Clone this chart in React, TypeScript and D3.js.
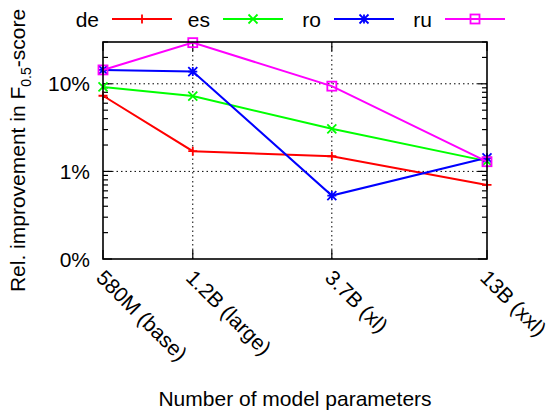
import React from 'react';
import * as d3 from 'd3';

// model sizes (x) and relative improvements in % (y)
const sizes = [580e6, 1.2e9, 3.7e9, 13e9];
const sizeLabels = ['580M (base)', '1.2B (large)', '3.7B (xl)', '13B (xxl)'];
const langs = ['de', 'es', 'ro', 'ru'];
const deVals = [7.3, 1.7, 1.49, 0.7];
const esVals = [9.2, 7.25, 3.06, 1.31];
const roVals = [14.4, 13.8, 0.53, 1.43];
const ruVals = [14.4, 29.5, 9.4, 1.29];
const yTicks = [0.1, 1, 10];
const yTickLabels = ['0%', '1%', '10%'];

const colors = ['#ff0000', '#00ff00', '#0000ff', '#ff00ff'];
const font = '"Liberation Sans", Arial, Helvetica, sans-serif';
const fs = 21;

const margin = { top: 42, right: 63, bottom: 155, left: 103 };
const W = 550;
const H = 414;

function Marker({ kind, x, y, color }: { kind: number; x: number; y: number; color: string }) {
  const s = 4.5;
  const plus = `M${x - s},${y}H${x + s}M${x},${y - s}V${y + s}`;
  const cross = `M${x - s},${y - s}L${x + s},${y + s}M${x - s},${y + s}L${x + s},${y - s}`;
  if (kind === 0) return <path d={plus} stroke={color} strokeWidth={1.8} fill="none" />;
  if (kind === 1) return <path d={cross} stroke={color} strokeWidth={1.8} fill="none" />;
  if (kind === 2) return <path d={plus + cross} stroke={color} strokeWidth={1.8} fill="none" />;
  return <rect x={x - s} y={y - s} width={2 * s} height={2 * s} stroke={color} strokeWidth={1.8} fill="none" />;
}

export default function App() {
  const series = [deVals, esVals, roVals, ruVals];
  const x0 = margin.left;
  const x1 = W - margin.right;
  const y0 = H - margin.bottom;
  const y1 = margin.top;

  const x = d3.scaleLog().domain([sizes[0], sizes[sizes.length - 1]]).range([x0, x1]);
  const y = d3.scaleLog().domain([0.1, 30]).range([y0, y1]);

  const line = d3
    .line<number>()
    .x((_, i) => x(sizes[i]))
    .y((d) => y(d));

  // minor ticks 2..9 per decade
  const minor: number[] = [];
  [0.1, 1, 10].forEach((dec) => {
    for (let k = 2; k <= 9; k++) {
      const v = dec * k;
      if (v <= 30) minor.push(v);
    }
  });

  return (
    <svg
      width={W}
      height={H}
      style={{ position: 'absolute', left: 0, top: 0, background: '#fff' }}
      fontFamily={font}
    >
      {/* grid */}
      {yTicks.slice(1).map((t) => (
        <line key={'gy' + t} x1={x0} x2={x1} y1={y(t)} y2={y(t)} stroke="#000" strokeWidth={1} strokeDasharray="1.5,3" />
      ))}
      {sizes.slice(1, -1).map((s) => (
        <line key={'gx' + s} x1={x(s)} x2={x(s)} y1={y0} y2={y1} stroke="#000" strokeWidth={1} strokeDasharray="1.5,3" />
      ))}

      {/* ticks */}
      {yTicks.map((t) => (
        <g key={'ty' + t}>
          <line x1={x0} x2={x0 + 9} y1={y(t)} y2={y(t)} stroke="#000" strokeWidth={1.2} />
          <line x1={x1} x2={x1 - 9} y1={y(t)} y2={y(t)} stroke="#000" strokeWidth={1.2} />
        </g>
      ))}
      {minor.map((t) => (
        <g key={'my' + t}>
          <line x1={x0} x2={x0 + 5} y1={y(t)} y2={y(t)} stroke="#000" strokeWidth={1.2} />
          <line x1={x1} x2={x1 - 5} y1={y(t)} y2={y(t)} stroke="#000" strokeWidth={1.2} />
        </g>
      ))}
      {sizes.map((s) => (
        <g key={'tx' + s}>
          <line x1={x(s)} x2={x(s)} y1={y0} y2={y0 - 9} stroke="#000" strokeWidth={1.2} />
          <line x1={x(s)} x2={x(s)} y1={y1} y2={y1 + 9} stroke="#000" strokeWidth={1.2} />
        </g>
      ))}

      {/* tick labels */}
      {yTicks.map((t, i) => (
        <text key={'ly' + t} x={x0 - 13} y={y(t)} dy="0.36em" textAnchor="end" fontSize={fs}>
          {yTickLabels[i]}
        </text>
      ))}
      {sizes.map((s, i) => (
        <text
          key={'lx' + s}
          transform={`translate(${x(s) - 8},${y0 + 20}) rotate(45)`}
          textAnchor="start"
          fontSize={fs}
        >
          {sizeLabels[i]}
        </text>
      ))}

      {/* series */}
      {series.map((vals, si) => (
        <g key={langs[si]}>
          <path d={line(vals) || ''} fill="none" stroke={colors[si]} strokeWidth={2} />
          {vals.map((v, i) => (
            <Marker key={i} kind={si} x={x(sizes[i])} y={y(v)} color={colors[si]} />
          ))}
        </g>
      ))}

      {/* frame */}
      <rect x={x0} y={y1} width={x1 - x0} height={y0 - y1} fill="none" stroke="#000" strokeWidth={1.6} />

      {/* legend */}
      {langs.map((l, i) => {
        const lx = 112 + i * 111;
        const ly = 19;
        return (
          <g key={'leg' + l}>
            <text x={lx - 13} y={ly} dy="0.36em" textAnchor="end" fontSize={fs}>
              {l}
            </text>
            <line x1={lx} x2={lx + 60} y1={ly} y2={ly} stroke={colors[i]} strokeWidth={2} />
            <Marker kind={i} x={lx + 30} y={ly} color={colors[i]} />
          </g>
        );
      })}

      {/* axis titles */}
      <text x={(x0 + x1) / 2} y={398} dy="0.36em" textAnchor="middle" fontSize={fs}>
        Number of model parameters
      </text>
      <text transform={`translate(17,${(y0 + y1) / 2}) rotate(-90)`} dy="0.36em" textAnchor="middle" fontSize={fs}>
        Rel. improvement in F<tspan fontSize={14} dy="6">0.5</tspan>
        <tspan dy="-6">-score</tspan>
      </text>
    </svg>
  );
}
